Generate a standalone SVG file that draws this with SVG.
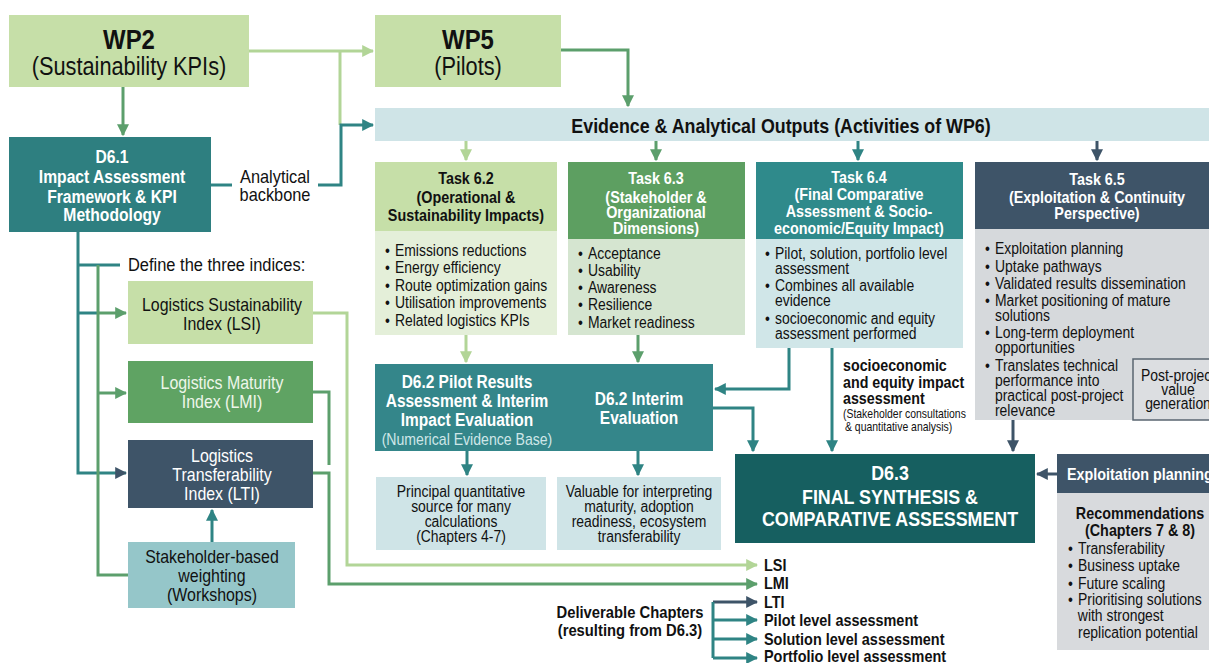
<svg xmlns="http://www.w3.org/2000/svg" width="1209" height="663" viewBox="0 0 1209 663">
  <defs>
    <style>
      text { font-family: "Liberation Sans", Arial, sans-serif; transform-box: fill-box; transform-origin: 0 50%; transform: scaleX(0.87); }
      text.c { text-anchor: middle; transform-origin: 50% 50%; }
      .b { font-weight: bold; }
      .w { fill: #ffffff; }
      .k { fill: #111111; }
      .hd { font-size: 16.5px; font-weight: bold; }
      .bl { font-size: 16px; }
      .ix { font-size: 18.3px; }
      .ln { fill: none; stroke-width: 3; }
      .lg { stroke: #b2d597; }
      .mg { stroke: #5c9f6c; }
      .tl { stroke: #2f8484; }
      .ds { stroke: #3e5468; }
    </style>
    <marker id="aLg" viewBox="0 0 10 10" refX="9" refY="5" markerWidth="12" markerHeight="12" markerUnits="userSpaceOnUse" orient="auto"><path d="M0,0 L10,5 L0,10 z" fill="#b2d597"/></marker>
    <marker id="aMg" viewBox="0 0 10 10" refX="9" refY="5" markerWidth="12" markerHeight="12" markerUnits="userSpaceOnUse" orient="auto"><path d="M0,0 L10,5 L0,10 z" fill="#5c9f6c"/></marker>
    <marker id="aTl" viewBox="0 0 10 10" refX="9" refY="5" markerWidth="12" markerHeight="12" markerUnits="userSpaceOnUse" orient="auto"><path d="M0,0 L10,5 L0,10 z" fill="#2f8484"/></marker>
    <marker id="aDs" viewBox="0 0 10 10" refX="9" refY="5" markerWidth="12" markerHeight="12" markerUnits="userSpaceOnUse" orient="auto"><path d="M0,0 L10,5 L0,10 z" fill="#3e5468"/></marker>
  </defs>

  <rect width="1209" height="663" fill="#ffffff"/>

  <!-- connectors -->
  <g id="connectors">
    <!-- WP2 to WP5 and backbone feed -->
    <path class="ln lg" d="M249,51 H373" marker-end="url(#aLg)"/>
    <path class="ln lg" d="M340,51 V125"/>
    <path class="ln mg" d="M123,87 V135" marker-end="url(#aMg)"/>
    <path class="ln tl" d="M211,185 H232"/>
    <path class="ln tl" d="M318,185 H341 V125 H373" marker-end="url(#aTl)"/>
    <path class="ln mg" d="M561,50 H628 V106" marker-end="url(#aMg)"/>
    <!-- evidence bar to tasks -->
    <path class="ln lg" d="M466,141 V160" marker-end="url(#aLg)"/>
    <path class="ln mg" d="M656,141 V160" marker-end="url(#aMg)"/>
    <path class="ln tl" d="M858,141 V160" marker-end="url(#aTl)"/>
    <path class="ln ds" d="M1097,141 V160" marker-end="url(#aDs)"/>
    <!-- tasks to D6.2 / D6.3 -->
    <path class="ln lg" d="M466,335 V362" marker-end="url(#aLg)"/>
    <path class="ln mg" d="M638,335 V362" marker-end="url(#aMg)"/>
    <path class="ln tl" d="M789,348 V389 H715" marker-end="url(#aTl)"/>
    <path class="ln tl" d="M713,408 H753 V451" marker-end="url(#aTl)"/>
    <path class="ln tl" d="M832,348 V451" marker-end="url(#aTl)"/>
    <path class="ln ds" d="M1013,420 V451" marker-end="url(#aDs)"/>
    <path class="ln ds" d="M1057,474 H1037" marker-end="url(#aDs)"/>
    <!-- D6.2 to notes -->
    <path class="ln tl" d="M467,451 V475" marker-end="url(#aTl)"/>
    <path class="ln tl" d="M638,451 V475" marker-end="url(#aTl)"/>
    <!-- D6.1 to indices -->
    <path class="ln tl" d="M78,232 V473 H126" marker-end="url(#aDs)"/>
    <path class="ln tl" d="M78,265 H120"/>
    <path class="ln tl" d="M78,313 H98"/>
    <path class="ln mg" d="M98,265 V575 H128"/>
    <path class="ln mg" d="M98,313 H126" marker-end="url(#aMg)"/>
    <path class="ln mg" d="M98,393 H126" marker-end="url(#aMg)"/>
    <path class="ln tl" d="M212,542 V510" marker-end="url(#aTl)"/>
    <!-- indices to chapter list -->
    <path class="ln lg" d="M313,313 H347 V565 H757" marker-end="url(#aLg)"/>
    <path class="ln mg" d="M313,392 H329 V465"/>
    <path class="ln mg" d="M313,473 H329 V584 H757" marker-end="url(#aMg)"/>
    <!-- deliverable chapters bracket -->
    <path class="ln ds" d="M713,602 H757" marker-end="url(#aDs)"/>
    <path class="ln tl" d="M713,602 V658"/>
    <path class="ln tl" d="M713,620 H757" marker-end="url(#aTl)"/>
    <path class="ln tl" d="M713,639 H757" marker-end="url(#aTl)"/>
    <path class="ln tl" d="M713,658 H757" marker-end="url(#aTl)"/>
  </g>

  <g id="wp2">
    <rect x="9" y="15" width="240" height="72" fill="#c6dfa8"/>
    <text class="b k c" x="129" y="49" style="font-size:27.5px">WP2</text>
    <text class="k c" x="129" y="75" style="font-size:25px">(Sustainability KPIs)</text>
  </g>

  <g id="wp5">
    <rect x="375" y="15" width="186" height="72" fill="#c6dfa8"/>
    <text class="b k c" x="468" y="49" style="font-size:27.5px">WP5</text>
    <text class="k c" x="468" y="75" style="font-size:25px">(Pilots)</text>
  </g>

  <g id="d61">
    <rect x="9" y="137" width="202" height="95" fill="#2e7f80"/>
    <text class="b w c" x="112" y="163" style="font-size:18px">D6.1</text>
    <text class="b w c" x="112" y="183" style="font-size:18px">Impact Assessment</text>
    <text class="b w c" x="112" y="203" style="font-size:18px">Framework &amp; KPI</text>
    <text class="b w c" x="112" y="221" style="font-size:18px">Methodology</text>
  </g>

  <g id="backbone-label">
    <text class="k c" x="275" y="183" style="font-size:18.8px">Analytical</text>
    <text class="k c" x="275" y="201" style="font-size:18.8px">backbone</text>
  </g>

  <g id="evidence">
    <rect x="375" y="108" width="834" height="33" fill="#cfe4e7"/>
    <text class="b k c" x="781" y="133" style="font-size:20.5px">Evidence &amp; Analytical Outputs (Activities of WP6)</text>
  </g>

  <g id="task62">
    <rect x="375" y="162" width="182" height="69" fill="#c6dfa8"/>
    <rect x="375" y="231" width="182" height="104" fill="#e4efd9"/>
    <text class="hd k c" x="466" y="184">Task 6.2</text>
    <text class="hd k c" x="466" y="203">(Operational &amp;</text>
    <text class="hd k c" x="466" y="221">Sustainability Impacts)</text>
    <g class="k bl">
      <text x="385" y="256">•</text><text x="395" y="256">Emissions reductions</text>
      <text x="385" y="273">•</text><text x="395" y="273">Energy efficiency</text>
      <text x="385" y="291">•</text><text x="395" y="291">Route optimization gains</text>
      <text x="385" y="308">•</text><text x="395" y="308">Utilisation improvements</text>
      <text x="385" y="326">•</text><text x="395" y="326">Related logistics KPIs</text>
    </g>
  </g>

  <g id="task63">
    <rect x="568" y="162" width="177" height="77" fill="#5d9f61"/>
    <rect x="568" y="239" width="177" height="96" fill="#d5e5d0"/>
    <text class="hd w c" x="656" y="184">Task 6.3</text>
    <text class="hd w c" x="656" y="203">(Stakeholder &amp;</text>
    <text class="hd w c" x="656" y="218">Organizational</text>
    <text class="hd w c" x="656" y="234">Dimensions)</text>
    <g class="k bl">
      <text x="578" y="259">•</text><text x="588" y="259">Acceptance</text>
      <text x="578" y="276">•</text><text x="588" y="276">Usability</text>
      <text x="578" y="293">•</text><text x="588" y="293">Awareness</text>
      <text x="578" y="310">•</text><text x="588" y="310">Resilience</text>
      <text x="578" y="328">•</text><text x="588" y="328">Market readiness</text>
    </g>
  </g>

  <g id="task64">
    <rect x="756" y="162" width="207" height="77" fill="#2f8a8b"/>
    <rect x="756" y="239" width="207" height="109" fill="#d0e6e8"/>
    <text class="hd w c" x="859" y="183">Task 6.4</text>
    <text class="hd w c" x="859" y="200">(Final Comparative</text>
    <text class="hd w c" x="859" y="217">Assessment &amp; Socio-</text>
    <text class="hd w c" x="859" y="234">economic/Equity Impact)</text>
    <g class="k bl">
      <text x="765" y="259">•</text><text x="775" y="259">Pilot, solution, portfolio level</text>
      <text x="775" y="274">assessment</text>
      <text x="765" y="291">•</text><text x="775" y="291">Combines all available</text>
      <text x="775" y="306">evidence</text>
      <text x="765" y="324">•</text><text x="775" y="324">socioeconomic and equity</text>
      <text x="775" y="339">assessment performed</text>
    </g>
  </g>

  <g id="task65">
    <rect x="975" y="162" width="234" height="67" fill="#3e5468"/>
    <rect x="975" y="229" width="234" height="191" fill="#d6d9dc"/>
    <text class="hd w c" x="1097" y="185">Task 6.5</text>
    <text class="hd w c" x="1097" y="203">(Exploitation &amp; Continuity</text>
    <text class="hd w c" x="1097" y="219">Perspective)</text>
    <g class="k bl">
      <text x="985" y="254">•</text><text x="995" y="254">Exploitation planning</text>
      <text x="985" y="272">•</text><text x="995" y="272">Uptake pathways</text>
      <text x="985" y="289">•</text><text x="995" y="289">Validated results dissemination</text>
      <text x="985" y="306">•</text><text x="995" y="306">Market positioning of mature</text>
      <text x="995" y="321">solutions</text>
      <text x="985" y="338">•</text><text x="995" y="338">Long-term deployment</text>
      <text x="995" y="353">opportunities</text>
      <text x="985" y="371">•</text><text x="995" y="371">Translates technical</text>
      <text x="995" y="386">performance into</text>
      <text x="995" y="401">practical post-project</text>
      <text x="995" y="416">relevance</text>
    </g>
  </g>

  <g id="post-project">
    <rect x="1133" y="359" width="84" height="61" fill="#dcdee1" stroke="#5a6570" stroke-width="1.5"/>
    <text class="k c" x="1178" y="381" style="font-size:16px">Post-project</text>
    <text class="k c" x="1178" y="395" style="font-size:16px">value</text>
    <text class="k c" x="1178" y="409" style="font-size:16px">generation</text>
  </g>

  <g id="socio-label">
    <text class="b k" x="843" y="371" style="font-size:16.4px">socioeconomic</text>
    <text class="b k" x="843" y="388" style="font-size:16.4px">and equity impact</text>
    <text class="b k" x="843" y="404" style="font-size:16.4px">assessment</text>
    <text class="k" x="843" y="418" style="font-size:12px">(Stakeholder consultations</text>
    <text class="k" x="845" y="431" style="font-size:12px">&amp; quantitative analysis)</text>
  </g>

  <g id="d62">
    <rect x="375" y="364" width="338" height="87" fill="#34868a"/>
    <text class="b w c" x="467" y="388" style="font-size:17.8px">D6.2 Pilot Results</text>
    <text class="b w c" x="467" y="407" style="font-size:17.8px">Assessment &amp; Interim</text>
    <text class="b w c" x="467" y="426" style="font-size:17.8px">Impact Evaluation</text>
    <text class="c" x="467" y="445" fill="#cfe6e8" style="font-size:16.2px">(Numerical Evidence Base)</text>
    <text class="b w c" x="639" y="405" style="font-size:17.8px">D6.2 Interim</text>
    <text class="b w c" x="639" y="424" style="font-size:17.8px">Evaluation</text>
  </g>

  <g id="note-principal">
    <rect x="376" y="477" width="170" height="73" fill="#cfe4e7"/>
    <text class="k c bl" x="461" y="497">Principal quantitative</text>
    <text class="k c bl" x="461" y="512">source for many</text>
    <text class="k c bl" x="461" y="527">calculations</text>
    <text class="k c bl" x="461" y="542">(Chapters 4-7)</text>
  </g>

  <g id="note-valuable">
    <rect x="557" y="477" width="164" height="73" fill="#cfe4e7"/>
    <text class="k c bl" x="639" y="497">Valuable for interpreting</text>
    <text class="k c bl" x="639" y="512">maturity, adoption</text>
    <text class="k c bl" x="639" y="527">readiness, ecosystem</text>
    <text class="k c bl" x="639" y="542">transferability</text>
  </g>

  <g id="d63">
    <rect x="735" y="454" width="300" height="89" fill="#165f60"/>
    <text class="b w c" x="890" y="480" style="font-size:20.5px">D6.3</text>
    <text class="b w c" x="890" y="504" style="font-size:20.5px">FINAL SYNTHESIS &amp;</text>
    <text class="b w c" x="890" y="526" style="font-size:20.5px">COMPARATIVE ASSESSMENT</text>
  </g>

  <g id="exploitation-planning">
    <rect x="1057" y="454" width="152" height="39" fill="#3e5468"/>
    <text class="b w" x="1067" y="480" style="font-size:16.5px">Exploitation planning</text>
  </g>

  <g id="recommendations">
    <rect x="1057" y="493" width="152" height="157" fill="#d8dadd"/>
    <text class="b k c" x="1140" y="519" style="font-size:16.5px">Recommendations</text>
    <text class="b k c" x="1140" y="536" style="font-size:16.5px">(Chapters 7 &amp; 8)</text>
    <g class="k bl">
      <text x="1068" y="554">•</text><text x="1078" y="554">Transferability</text>
      <text x="1068" y="571">•</text><text x="1078" y="571">Business uptake</text>
      <text x="1068" y="589">•</text><text x="1078" y="589">Future scaling</text>
      <text x="1068" y="605">•</text><text x="1078" y="605">Prioritising solutions</text>
      <text x="1078" y="621">with strongest</text>
      <text x="1078" y="638">replication potential</text>
    </g>
  </g>

  <g id="indices-label">
    <text class="k" x="128" y="271" style="font-size:18.9px">Define the three indices:</text>
  </g>

  <g id="lsi">
    <rect x="128" y="281" width="185" height="63" fill="#c6dfa8"/>
    <text class="k c ix" x="222" y="311">Logistics Sustainability</text>
    <text class="k c ix" x="222" y="330">Index (LSI)</text>
  </g>

  <g id="lmi">
    <rect x="128" y="361" width="185" height="62" fill="#5fa363"/>
    <text class="c ix" x="222" y="389" fill="#eef6ea">Logistics Maturity</text>
    <text class="c ix" x="222" y="408" fill="#eef6ea">Index (LMI)</text>
  </g>

  <g id="lti">
    <rect x="128" y="440" width="185" height="68" fill="#3e5468"/>
    <text class="w c ix" x="222" y="462">Logistics</text>
    <text class="w c ix" x="222" y="481">Transferability</text>
    <text class="w c ix" x="222" y="500">Index (LTI)</text>
  </g>

  <g id="stakeholder-weighting">
    <rect x="128" y="542" width="167" height="66" fill="#95c6c9"/>
    <text class="k c ix" x="212" y="563">Stakeholder-based</text>
    <text class="k c ix" x="212" y="582">weighting</text>
    <text class="k c ix" x="212" y="601">(Workshops)</text>
  </g>

  <g id="deliverable-chapters">
    <text class="b k c" x="630" y="618" style="font-size:17px">Deliverable Chapters</text>
    <text class="b k c" x="630" y="636" style="font-size:17px">(resulting from D6.3)</text>
    <text class="b k" x="764" y="571" style="font-size:16.6px">LSI</text>
    <text class="b k" x="764" y="589" style="font-size:16.6px">LMI</text>
    <text class="b k" x="764" y="608" style="font-size:16.6px">LTI</text>
    <text class="b k" x="764" y="626" style="font-size:16.6px">Pilot level assessment</text>
    <text class="b k" x="764" y="645" style="font-size:16.6px">Solution level assessment</text>
    <text class="b k" x="764" y="662" style="font-size:16.6px">Portfolio level assessment</text>
  </g>
</svg>
